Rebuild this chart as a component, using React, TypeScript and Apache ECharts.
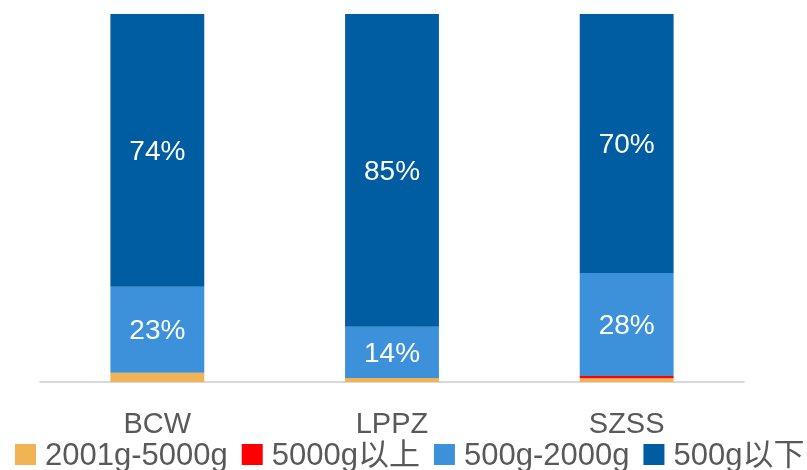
import React, { useEffect, useRef } from "react";
import * as echarts from "echarts";

const categories = ["BCW", "LPPZ", "SZSS"];
const seriesNames = ["2001g-5000g", "5000g以上", "500g-2000g", "500g以下"];
const heavy = [2.5, 1.1, 1.0];
const veryHeavy = [0, 0, 0.6];
const medium = [23.4, 13.9, 28.0];
const light = [74.1, 85.0, 70.4];
const colors = ["#F2B354", "#FF0000", "#3D91DB", "#005DA2"];
const labelled = [false, false, true, true];

const FONT = "'Liberation Sans', Arial, 'Noto Sans CJK SC', sans-serif";

export default function App() {
  const ref = useRef<HTMLDivElement>(null);
  useEffect(() => {
    if (!ref.current) return;
    const chart = echarts.init(ref.current, undefined, { renderer: "svg" });
    const data = [heavy, veryHeavy, medium, light];
    chart.setOption({
      animation: false,
      grid: { left: 40, right: 63, top: 14, bottom: 88, containLabel: false },
      legend: {
        data: seriesNames,
        left: 10,
        top: 434,
        width: 1200,
        itemWidth: 21,
        itemHeight: 21,
        itemGap: 14,
        icon: "rect",
        textStyle: {
          fontFamily: FONT,
          fontSize: 31,
          color: "#595959",
          lineHeight: 21,
          padding: [0, 0, 0, 4],
        },
      },
      xAxis: {
        type: "category",
        data: categories,
        axisLine: { lineStyle: { color: "#D9D9D9", width: 2 } },
        axisTick: { show: false },
        axisLabel: { fontFamily: FONT, fontSize: 29, color: "#595959", margin: 26 },
      },
      yAxis: { type: "value", min: 0, max: 100, show: false, splitLine: { show: false } },
      series: seriesNames.map((name, i) => ({
        name,
        type: "bar",
        stack: "total",
        barWidth: "40%",
        itemStyle: { color: colors[i] },
        label: {
          show: labelled[i],
          position: "inside",
          color: "#FFFFFF",
          fontFamily: FONT,
          fontSize: 28,
          formatter: (p: any) => Math.round(p.value) + "%",
        },
        data: data[i],
      })),
    });
    return () => chart.dispose();
  }, []);
  return <div ref={ref} style={{ position: "fixed", left: 0, top: 0, width: 807, height: 470 }} />;
}
